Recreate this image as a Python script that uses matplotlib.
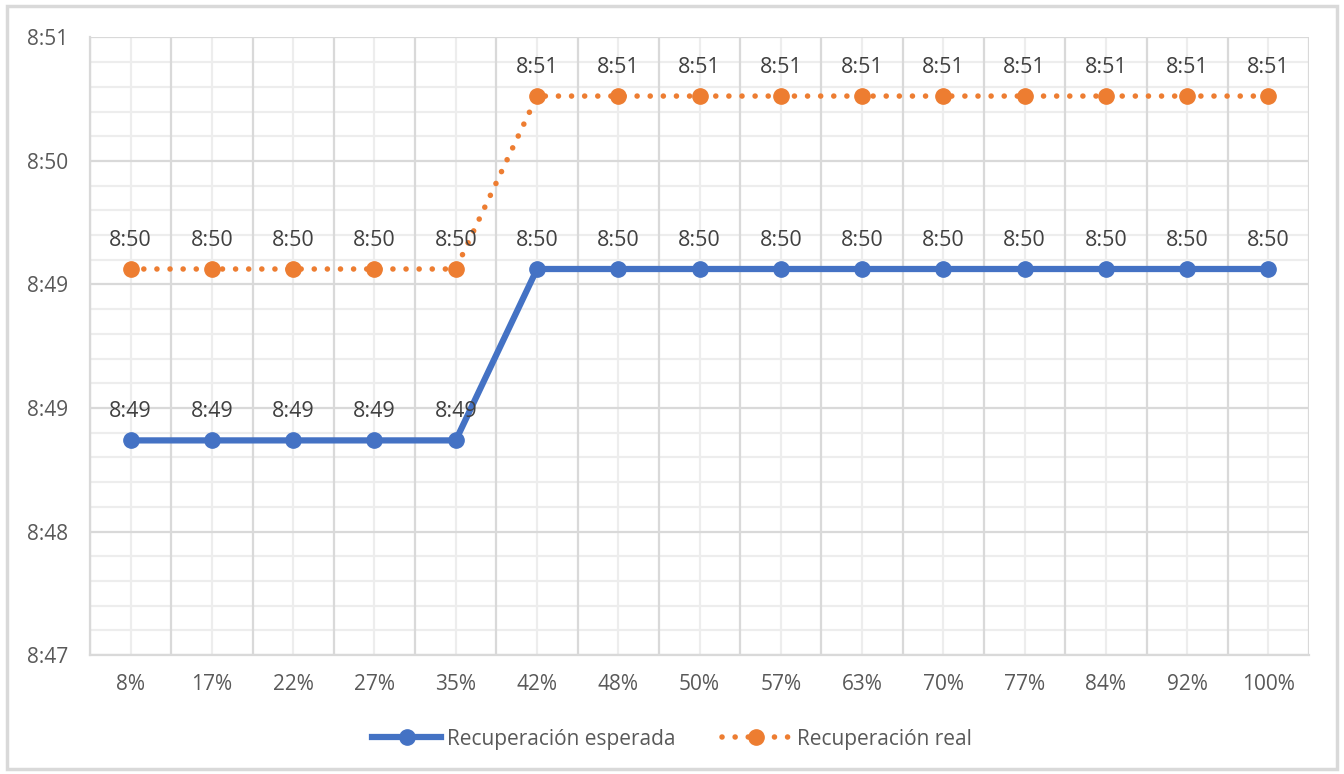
import numpy as np
import matplotlib
matplotlib.use("Agg")
import matplotlib.pyplot as plt
from matplotlib.patches import Rectangle

# categories (recovery %), values in minutes after midnight (8:47 = 527)
categorias = ["8%", "17%", "22%", "27%", "35%", "42%", "48%", "50%", "57%",
              "63%", "70%", "77%", "84%", "92%", "100%"]
esperada = [528.39]*5 + [529.50]*10
real = [529.50]*5 + [530.62]*10
lbl_esperada = ["8:49"]*5 + ["8:50"]*10
lbl_real = ["8:50"]*5 + ["8:51"]*10
y_ticks = [527.0, 527.8, 528.6, 529.4, 530.2, 531.0]
y_ticklabels = ["8:47", "8:48", "8:49", "8:49", "8:50", "8:51"]

plt.rcParams['font.family'] = ['Open Sans', 'DejaVu Sans']
TXT = '#595959'
AZUL = '#4472C4'
NARANJA = '#ED7D31'

fig = plt.figure(figsize=(13.44, 7.74), dpi=100)
fig.patches.append(Rectangle((0.005, 0.007), 0.99, 0.985, transform=fig.transFigure,
                             fill=False, ec='#D9D9D9', lw=2.5))
ax = fig.add_axes([0.067, 0.1537, 0.907, 0.798])

x = np.arange(len(categorias))
ax.set_xlim(-0.5, len(categorias) - 0.5)
ax.set_ylim(y_ticks[0], y_ticks[-1])

# grid: majors at category boundaries / y ticks, minors at centres / fifths
for b in np.arange(-0.5, len(categorias), 1.0):
    ax.axvline(b, color='#D9D9D9', lw=1.6, zorder=1)
for c in x:
    ax.axvline(c, color='#EDEDED', lw=1.6, zorder=0.5)
for i in range(len(y_ticks) - 1):
    for k in range(1, 5):
        ax.axhline(y_ticks[i] + k*(y_ticks[i+1]-y_ticks[i])/5, color='#EDEDED', lw=1.6, zorder=0.5)
for t in y_ticks:
    ax.axhline(t, color='#D9D9D9', lw=1.6, zorder=1)

ax.plot(x, esperada, color=AZUL, lw=4.5, marker='o', ms=11, label='Recuperación esperada', zorder=3)
ax.plot(x, real, color=NARANJA, lw=4, ls=(0, (0.01, 2.35)), dash_capstyle='round',
        marker='o', ms=11, label='Recuperación real', zorder=3)

for xi, yi, s in zip(x, esperada, lbl_esperada):
    ax.annotate(s, (xi, yi), xytext=(0, 13), textcoords='offset points', ha='center',
                va='bottom', fontsize=15.5, color='#404040', zorder=4)
for xi, yi, s in zip(x, real, lbl_real):
    ax.annotate(s, (xi, yi), xytext=(0, 13), textcoords='offset points', ha='center',
                va='bottom', fontsize=15.5, color='#404040', zorder=4)

ax.set_xticks(x)
ax.set_xticklabels(categorias)
ax.set_yticks(y_ticks)
ax.set_yticklabels(y_ticklabels)
ax.tick_params(axis='both', length=0, labelsize=15, colors=TXT)
ax.tick_params(axis='x', pad=14)
ax.tick_params(axis='y', pad=16)
for s in ['top', 'right']:
    ax.spines[s].set_visible(False)
for s in ['left', 'bottom']:
    ax.spines[s].set_color('#D9D9D9')
    ax.spines[s].set_linewidth(1.6)

fig.legend(loc='center', bbox_to_anchor=(0.5, 0.045), ncol=2, frameon=False,
           fontsize=15, labelcolor=TXT, handlelength=3.3, columnspacing=2.2, handletextpad=0.3)

plt.savefig('out.png', dpi=100)
